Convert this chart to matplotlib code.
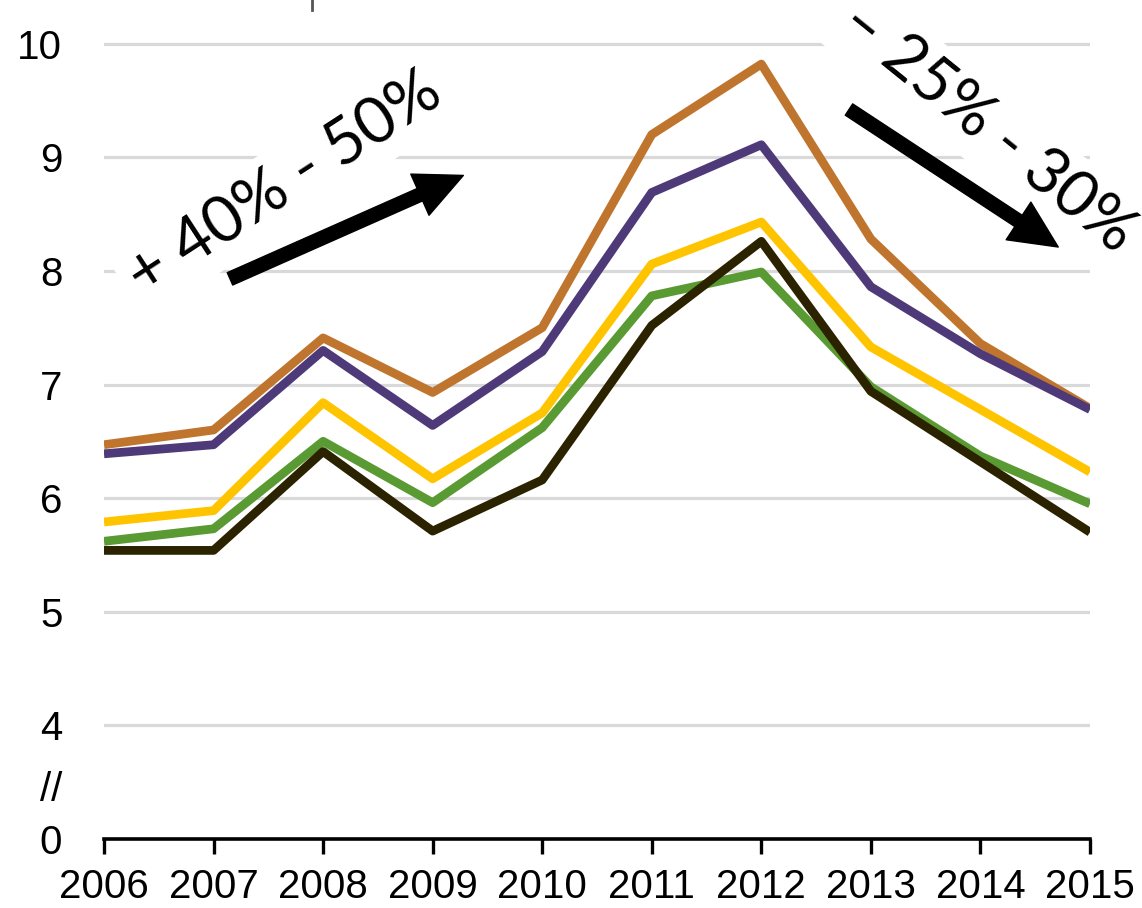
import matplotlib.pyplot as plt
from matplotlib.patches import FancyArrowPatch
from matplotlib.lines import Line2D

# Datos por año
anios = [2006, 2007, 2008, 2009, 2010, 2011, 2012, 2013, 2014, 2015]
serie_naranja = [6.47, 6.60, 7.41, 6.93, 7.50, 9.20, 9.82, 8.28, 7.36, 6.79]
serie_morada = [6.39, 6.47, 7.30, 6.64, 7.29, 8.69, 9.11, 7.86, 7.27, 6.78]
serie_amarilla = [5.79, 5.89, 6.84, 6.17, 6.75, 8.06, 8.43, 7.33, 6.78, 6.23]
serie_verde = [5.62, 5.73, 6.50, 5.96, 6.62, 7.78, 7.99, 6.98, 6.37, 5.95]
serie_negra = [5.54, 5.54, 6.41, 5.71, 6.16, 7.52, 8.26, 6.94, 6.32, 5.70]

ticks_y = [3.0, 3.47, 4, 5, 6, 7, 8, 9, 10]
etiquetas_y = ["0", "//", "4", "5", "6", "7", "8", "9", "10"]
rejilla_y = [4, 5, 6, 7, 8, 9, 10]

fig = plt.figure(figsize=(11.42, 9.08), dpi=100)
ax = fig.add_axes([104 / 1142, 1 - 839 / 908, 986 / 1142, 839 / 908])

# Rejilla horizontal
for v in rejilla_y:
    ax.axhline(v, color="#d9d9d9", lw=2.3, zorder=1)

# Series
series = [
    (serie_naranja, "#c0752e"),
    (serie_morada, "#4e3a78"),
    (serie_amarilla, "#ffc400"),
    (serie_verde, "#5a9a32"),
    (serie_negra, "#2b2200"),
]
for valores, color in series:
    ax.plot(anios, valores, color=color, lw=6.3, zorder=3,
            solid_joinstyle="round", solid_capstyle="butt")

ax.set_xlim(2006, 2015)
ax.set_ylim(3.04, 10.384)

ax.set_xticks(anios)
ax.set_xticklabels([str(a) for a in anios], fontsize=29, family="Liberation Sans")
ax.set_yticks(ticks_y)
ax.set_yticklabels(etiquetas_y, fontsize=29, family="Liberation Sans")
ax.tick_params(axis="y", length=0, pad=30)
ax.tick_params(axis="x", length=11, width=2.4, direction="out", pad=10, color="black")

for lado in ["left", "right", "top"]:
    ax.spines[lado].set_visible(False)
ax.spines["bottom"].set_linewidth(2.6)

# Textos de tendencia
caja = dict(boxstyle="square,pad=0.15", fc="white", ec="none")
ax.text(2007.65, 8.76, "+ 40% - 50%", rotation=33, ha="center", va="center",
        rotation_mode="anchor", fontsize=46, family="Lato", bbox=caja, zorder=2)
ax.text(2014.06, 9.26, "– 25% - 30%", rotation=-39, ha="center", va="center",
        rotation_mode="anchor", fontsize=46, family="Lato", bbox=caja, zorder=2,
        clip_on=False)

# Flechas
for inicio, fin in [((2007.15, 7.93), (2009.28, 8.84)),
                    ((2012.80, 9.42), (2014.71, 8.21))]:
    flecha = FancyArrowPatch(inicio, fin,
                             arrowstyle="simple,head_length=0.95,head_width=0.9,tail_width=0.27",
                             mutation_scale=36, color="black", shrinkA=0, shrinkB=0,
                             zorder=4)
    ax.add_patch(flecha)

# Pequeña marca superior (recorte de la imagen original)
fig.add_artist(Line2D([312 / 1142] * 2, [1, 1 - 10 / 908], color="#555555", lw=2))

plt.savefig("out.png", dpi=100)
plt.close()
